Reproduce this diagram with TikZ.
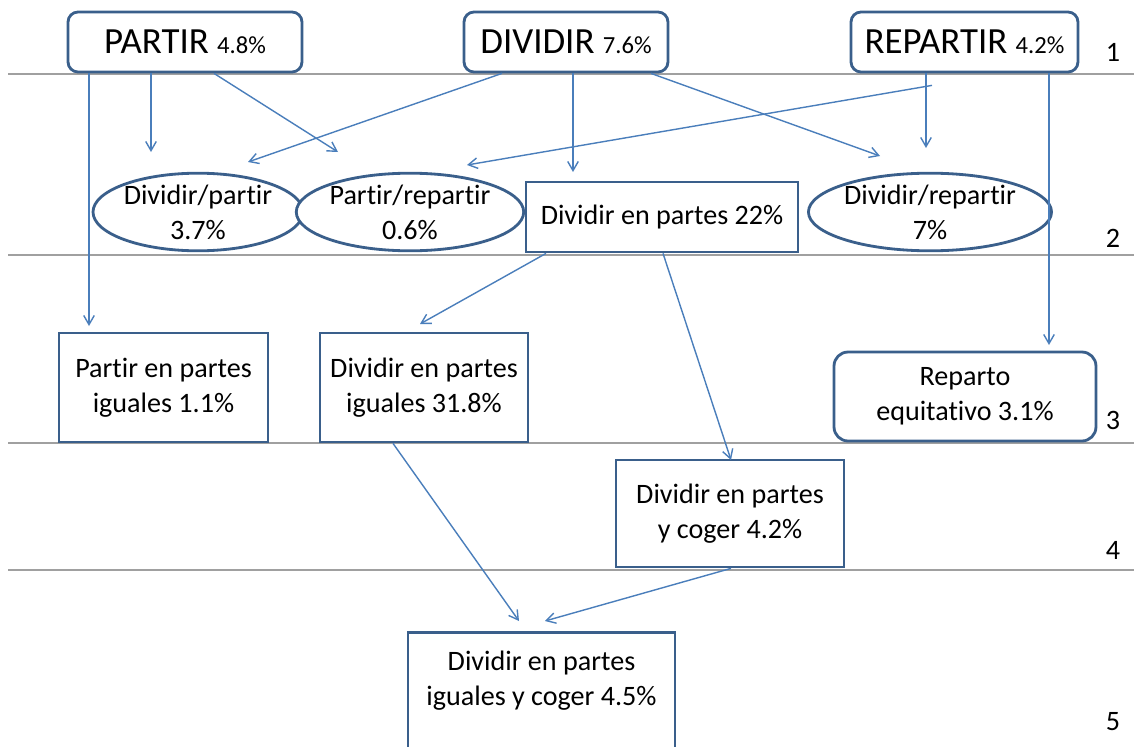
\documentclass[tikz,border=0pt]{standalone}
\usepackage{fontspec}
\setmainfont{Carlito}[Ligatures=NoCommon]
\usetikzlibrary{shapes.geometric,arrows.meta,calc}
\definecolor{boxblue}{HTML}{3A5F8B}
\definecolor{arrblue}{HTML}{4A7EBB}
\definecolor{rulegray}{HTML}{A0A0A0}
\tikzset{
    box/.style={draw=boxblue,line width=1.6pt,fill=white,align=center,inner sep=2pt},
    title/.style={box,rounded corners=0.2cm,minimum height=1.2cm,font=\fontsize{21}{24}\selectfont},
    oval/.style={box,ellipse,minimum height=1.32cm,inner sep=0pt},
    arr/.style={draw=arrblue,line width=0.8pt,-{Straight Barb[angle=60:6pt]}},
    level/.style={font=\fontsize{16}{20}\selectfont}
}
\newcommand{\pct}[1]{{\fontsize{14}{16}\selectfont #1}}
\begin{document}
\begin{tikzpicture}[x=0.02cm,y=-0.02cm,font=\fontsize{16}{20}\selectfont]
        \useasboundingbox (0,0) rectangle (1134,747);
        % levels
        \foreach \yy in {74,255,443,570}
            \draw[rulegray,line width=0.8pt] (8,\yy) -- (1134,\yy);
        \node[level] (L1) at (1113,52) {1};
        \node[level] (L2) at (1113,238) {2};
        \node[level] (L3) at (1113,420) {3};
        \node[level] (L4) at (1113,550) {4};
        \node[level] (L5) at (1113,722) {5};
        % nodes
        \node[title,minimum width=4.68cm] (PARTIR) at (185,42) {PARTIR \pct{4.8\%}};
        \node[title,minimum width=4.08cm] (DIVIDIR) at (566,42) {DIVIDIR \pct{7.6\%}};
        \node[title,minimum width=4.54cm] (REPARTIR) at (964.5,42) {REPARTIR \pct{4.2\%}};
        \node[oval,minimum width=4.16cm] (DP) at (198,212) {Dividir/partir\\3.7\%};
        \node[oval,minimum width=4cm] (PR) at (410,212) {Partir/repartir\\0.6\%};
        \node[box,minimum width=5.44cm,minimum height=1.4cm] (DEP) at (662,217) {Dividir en partes 22\%};
        \node[oval,minimum width=4.48cm] (DR) at (930,212) {Dividir/repartir\\7\%};
        \node[box,minimum width=4.18cm,minimum height=2.18cm] (PEPI) at (163.5,387.5) {Partir en partes\\iguales 1.1\%};
        \node[box,minimum width=4.16cm,minimum height=2.18cm] (DEPI) at (424,387.5) {Dividir en partes\\iguales 31.8\%};
        \node[box,rounded corners=0.28cm,minimum width=5.24cm,minimum height=1.78cm] (RE) at (965,396.5) {Reparto\\equitativo 3.1\%};
        \node[box,minimum width=4.56cm,minimum height=2.14cm] (DEPC) at (730,513.5) {Dividir en partes\\y coger 4.2\%};
        \node[box,anchor=north,minimum width=5.34cm,minimum height=2.4cm,text depth=0.55cm] (DEPIC) at (541.5,631) {Dividir en partes\\iguales y coger 4.5\%};
        % free ends
        \coordinate (a1) at (89,326);
        \coordinate (a2) at (151,152);
        \coordinate (a3) at (338,152);
        \coordinate (b1) at (248,162);
        \coordinate (b2) at (573,172);
        \coordinate (b3) at (880,156);
        \coordinate (c1) at (467,165);
        \coordinate (c2) at (926,148);
        \coordinate (c3) at (1049,345);
        \coordinate (d1) at (420,324);
        \coordinate (d2) at (731,460);
        \coordinate (e1) at (519,621);
        \coordinate (e2) at (545,621);
        % arrows
        \draw[arr] (PARTIR.south -| a1) -- (a1);
        \draw[arr] (PARTIR.south -| a2) -- (a2);
        \draw[arr] (PARTIR.south -| 214,0) -- (a3);
        \draw[arr] (DIVIDIR.south -| 502,0) -- (b1);
        \draw[arr] (DIVIDIR.south -| b2) -- (b2);
        \draw[arr] (DIVIDIR.south -| 651,0) -- (b3);
        \draw[arr] ($(REPARTIR.south -| 932,0)+(0,12)$) -- (c1);
        \draw[arr] (REPARTIR.south -| c2) -- (c2);
        \draw[arr] (REPARTIR.south -| c3) -- (c3);
        \draw[arr] (DEP.south -| 546,0) -- (d1);
        \draw[arr] (DEP.south -| 663,0) -- (d2);
        \draw[arr] (DEPI.south -| 393,0) -- (e1);
        \draw[arr] (DEPC.south -| d2) -- (e2);
\end{tikzpicture}
\end{document}
